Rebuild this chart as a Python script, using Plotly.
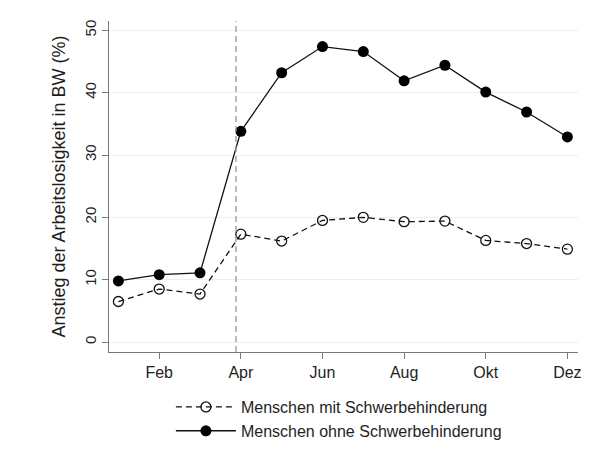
import plotly.graph_objects as go

months = list(range(1, 13))
tick_vals = [2, 4, 6, 8, 10, 12]
tick_labels = ["Feb", "Apr", "Jun", "Aug", "Okt", "Dez"]
y_ticks = [0, 10, 20, 30, 40, 50]

mit = [6.5, 8.5, 7.7, 17.3, 16.2, 19.5, 20.0, 19.3, 19.4, 16.3, 15.8, 14.9]
ohne = [9.8, 10.8, 11.1, 33.8, 43.2, 47.4, 46.6, 41.9, 44.4, 40.1, 36.9, 32.9]
lockdown_x = 3.88

font = "Liberation Sans, Arial, sans-serif"

fig = go.Figure()
fig.add_trace(go.Scatter(
    x=months, y=mit, name="Menschen mit Schwerbehinderung",
    mode="lines+markers", legendgroup="a",
    line=dict(color="#111111", width=1.3, dash="6px,4px"),
    marker=dict(symbol="circle-open", size=10, color="#111111", line=dict(width=1.3)),
))
fig.add_trace(go.Scatter(
    x=months, y=ohne, name="Menschen ohne Schwerbehinderung",
    mode="lines+markers", legendgroup="b",
    line=dict(color="#111111", width=1.3),
    marker=dict(symbol="circle", size=11, color="#000000"),
))
fig.add_shape(type="line", xref="x", yref="paper", x0=lockdown_x, x1=lockdown_x, y0=0, y1=1,
              line=dict(color="#999999", width=1.3, dash="6px,4px"))

# page body has an 8px margin, so the figure is drawn 8px smaller and offset
fig.update_layout(
    width=587, height=460,
    margin=dict(l=101, r=17, t=13, b=116),
    paper_bgcolor="white", plot_bgcolor="white",
    font=dict(family=font, size=16, color="#1e1e1e"),
    showlegend=True,
    legend=dict(orientation="v", x=0.132, y=-0.115, xanchor="left", yanchor="top",
                itemwidth=60, font=dict(size=16, color="#1e1e1e"), tracegroupgap=0,
                bgcolor="rgba(0,0,0,0)"),
    xaxis=dict(range=[0.77, 12.26], tickmode="array", tickvals=tick_vals, ticktext=tick_labels,
               automargin=False,
               showgrid=False, zeroline=False, showline=True, linecolor="#777777", linewidth=1.3,
               ticks="outside", ticklen=6, tickcolor="#777777", tickwidth=1.3,
               tickfont=dict(size=16, color="#1e1e1e")),
    yaxis=dict(range=[-1.6, 51.5], tickmode="array", tickvals=y_ticks, automargin=False,
               showgrid=True, gridcolor="#e8f0f2", gridwidth=1, zeroline=False,
               showline=True, linecolor="#777777", linewidth=1.3,
               ticks="outside", ticklen=6, tickcolor="#777777", tickwidth=1.3,
               tickangle=-90, tickfont=dict(size=15, color="#1e1e1e"),
               title=dict(text="Anstieg der Arbeitslosigkeit in BW (%)", font=dict(size=18, color="#1e1e1e"),
                          standoff=11)),
)

fig.write_html("out.html")
